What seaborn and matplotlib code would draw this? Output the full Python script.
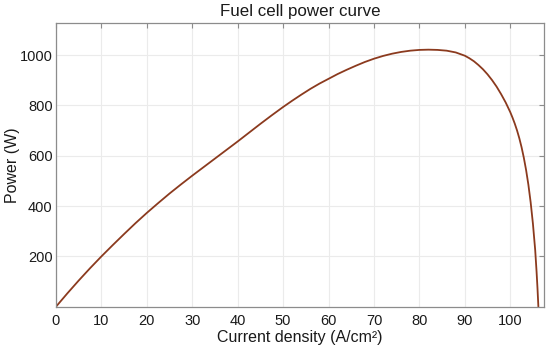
import pandas as pd
import matplotlib
matplotlib.use("Agg")
import matplotlib.pyplot as plt
import seaborn as sns

# values
current_density = [0, 2.5, 5, 7.5, 10, 12.5, 15, 17.5, 20, 22.5, 25, 27.5,
                   30, 32.5, 35, 37.5, 40, 42.5, 45, 47.5, 50, 52, 54, 56, 58,
                   60, 62, 64, 66, 68, 70, 72, 74, 76, 78, 80, 82, 84, 86, 88,
                   90, 91, 92, 93, 94, 95, 96, 97, 98, 99, 100, 100.5, 101,
                   101.5, 102, 102.5, 103, 103.5, 104, 104.5, 105, 105.5, 105.8,
                   106, 106.2]
power = [0, 53, 104, 153, 200, 245, 289, 332, 373, 412, 450, 486,
         521, 555, 589, 623, 657, 692, 727, 761, 794, 819, 843, 866, 887,
         906, 925, 942, 958, 973, 986, 997, 1006, 1013, 1018, 1021, 1022, 1021, 1018, 1011,
         998, 988, 976, 961, 944, 924, 901, 875, 845, 812, 774, 752, 728,
         701, 670, 634, 592, 543, 485, 415, 330, 225, 140,
         75, 0]

x_ticks = [0, 10, 20, 30, 40, 50, 60, 70, 80, 90, 100]
y_ticks = [200, 400, 600, 800, 1000]

df = pd.DataFrame({"Current density": current_density, "Power": power})

sns.set_style("whitegrid")
plt.rcParams["font.family"] = ["Liberation Sans", "DejaVu Sans"]

fig = plt.figure(figsize=(5.5, 3.48), dpi=100)
ax = fig.add_axes([0.1018, 0.1187, 0.8878, 0.8152])

sns.lineplot(data=df, x="Current density", y="Power", ax=ax,
             color="#8b3a1e", linewidth=1.3, sort=False)

ax.set_xlim(0, 107.5)
ax.set_ylim(0, 1128)
ax.set_xticks(x_ticks)
ax.set_yticks(y_ticks)

ax.grid(True, color="#ebebeb", linewidth=0.8)
for s in ax.spines.values():
    s.set_visible(True)
    s.set_color("#8c8c8c")
    s.set_linewidth(0.9)
ax.tick_params(direction="in", length=3.5, width=0.8, color="#8c8c8c",
               top=True, right=True, labelsize=10.5, labelcolor="#1a1a1a")
ax.tick_params(axis="y", pad=2.5)
ax.tick_params(axis="x", pad=5)

ax.set_title("Fuel cell power curve", fontsize=12.2, color="#1a1a1a", pad=5)
ax.set_xlabel("Current density (A/cm²)", fontsize=11.5, color="#1a1a1a", labelpad=2)
ax.set_ylabel("Power (W)", fontsize=11.5, color="#1a1a1a")
ax.yaxis.set_label_coords(-0.074, 0.5)

fig.savefig("out.png", dpi=100)
